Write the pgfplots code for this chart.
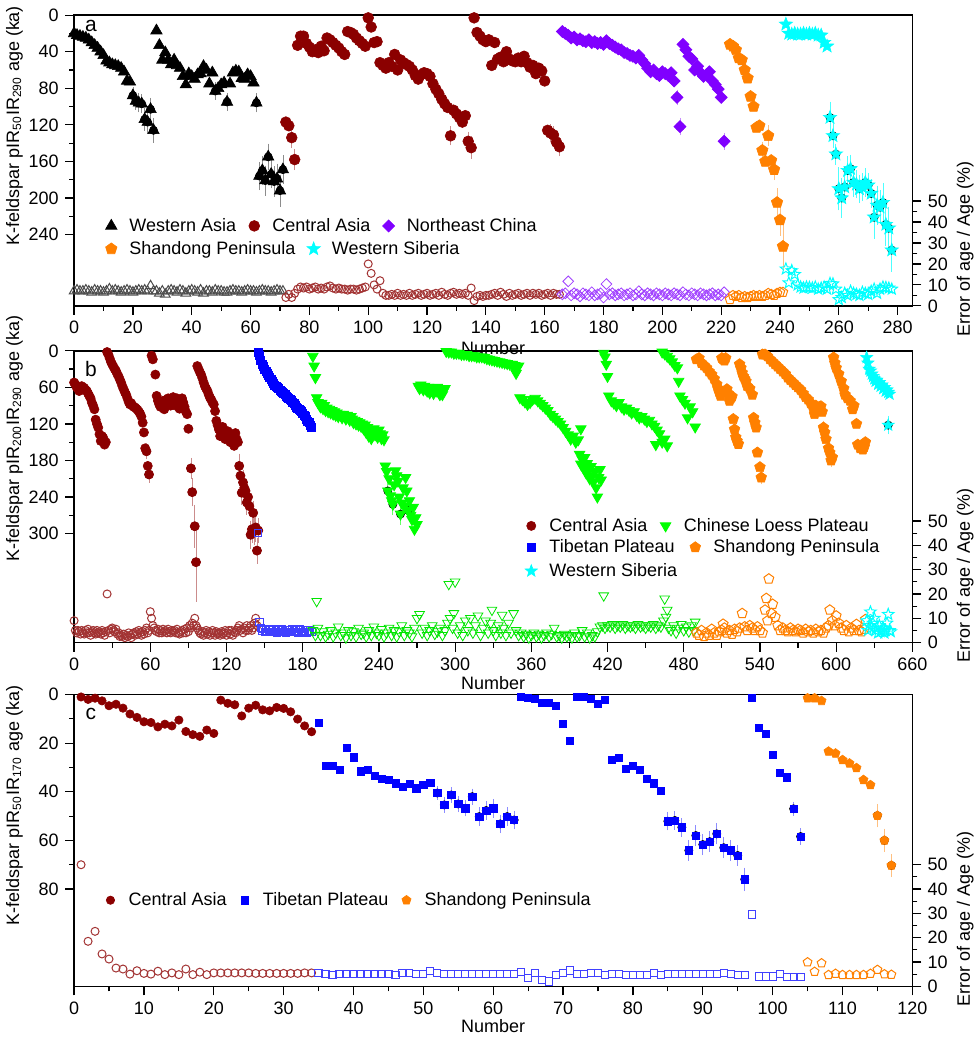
\documentclass[border=0pt]{standalone}
\usepackage{fontspec}
\setmainfont{Liberation Sans}
\usepackage{pgfplots}
\pgfplotsset{compat=1.18}

\definecolor{cred}{RGB}{139,0,0}
\definecolor{cpur}{RGB}{128,0,255}
\definecolor{cora}{RGB}{255,128,0}
\definecolor{ccya}{RGB}{0,255,255}
\definecolor{cblu}{RGB}{0,0,255}
\definecolor{cgrn}{RGB}{0,255,0}

% filled and open five-pointed stars
\pgfdeclareplotmark{fstar}{%
  \pgfpathmoveto{\pgfpointpolar{90}{\pgfplotmarksize}}%
  \pgfpathlineto{\pgfpointpolar{126}{0.42\pgfplotmarksize}}%
  \pgfpathlineto{\pgfpointpolar{162}{\pgfplotmarksize}}%
  \pgfpathlineto{\pgfpointpolar{198}{0.42\pgfplotmarksize}}%
  \pgfpathlineto{\pgfpointpolar{234}{\pgfplotmarksize}}%
  \pgfpathlineto{\pgfpointpolar{270}{0.42\pgfplotmarksize}}%
  \pgfpathlineto{\pgfpointpolar{306}{\pgfplotmarksize}}%
  \pgfpathlineto{\pgfpointpolar{342}{0.42\pgfplotmarksize}}%
  \pgfpathlineto{\pgfpointpolar{18}{\pgfplotmarksize}}%
  \pgfpathlineto{\pgfpointpolar{54}{0.42\pgfplotmarksize}}%
  \pgfpathclose\pgfusepathqfillstroke}
\pgfdeclareplotmark{ostar}{%
  \pgfpathmoveto{\pgfpointpolar{90}{\pgfplotmarksize}}%
  \pgfpathlineto{\pgfpointpolar{126}{0.42\pgfplotmarksize}}%
  \pgfpathlineto{\pgfpointpolar{162}{\pgfplotmarksize}}%
  \pgfpathlineto{\pgfpointpolar{198}{0.42\pgfplotmarksize}}%
  \pgfpathlineto{\pgfpointpolar{234}{\pgfplotmarksize}}%
  \pgfpathlineto{\pgfpointpolar{270}{0.42\pgfplotmarksize}}%
  \pgfpathlineto{\pgfpointpolar{306}{\pgfplotmarksize}}%
  \pgfpathlineto{\pgfpointpolar{342}{0.42\pgfplotmarksize}}%
  \pgfpathlineto{\pgfpointpolar{18}{\pgfplotmarksize}}%
  \pgfpathlineto{\pgfpointpolar{54}{0.42\pgfplotmarksize}}%
  \pgfpathclose\pgfusepathqstroke}

\pgfplotsset{
  base/.style={
    scale only axis, width=419.5pt, clip=false,
    tick align=outside, major tick length=4.5pt, minor tick length=2.5pt,
    every tick/.style={black, line width=0.6pt},
    axis line style={line width=0.7pt},
    /pgf/number format/assume math mode=true,
    legend style={draw=none, fill=none, inner sep=0pt, row sep=0pt,
      /tikz/every even column/.append style={column sep=0pt}},
    legend cell align=left,
    legend image code/.code={\path[draw=none,fill=none] (0pt,0pt) -- (14.2pt,0pt);
      \draw[##1, only marks] plot coordinates {(7.1pt,0pt)};},
  },
  ebar/.style={only marks, mark=none, forget plot,
    error bars/.cd, y dir=both, y explicit,
    error bar style={#1, line width=0.4pt},
    error mark options={#1, mark size=1.6pt, line width=0.4pt}},
  fillm/.style 2 args={only marks, mark=#1, color=#2, mark options={solid, fill=#2, line width=0.3pt}},
  openm/.style 2 args={only marks, mark=#1, color=#2, forget plot, mark options={solid, line width=0.5pt}},
}

\begin{document}
\fontsize{9}{11}\selectfont
\begin{tikzpicture}

%================ panel a ================
\begin{axis}[base, at={(0pt,340.5pt)}, anchor=south west, height=145.5pt,
  xmin=0, xmax=285, ymin=0, ymax=318, y dir=reverse,
  xtick={0,20,...,280}, minor x tick num=1,
  ytick={0,40,...,240}, minor ytick={20,60,...,220},
  xtick pos=left, ytick pos=left,
  xlabel={Number}, xlabel style={yshift=2.5pt},
  ylabel={K-feldspar pIR\textsubscript{50}IR\textsubscript{290} age (ka)},
  ylabel style={at={(axis description cs:-0.0536,0.62)}, anchor=south},
  legend columns=3,
  legend style={at={(axis description cs:0.027,0.275)}, anchor=west}]
\addplot[ebar=black!45] coordinates {(20,88)+-(0,6) (21,94)+-(0,6) (22,96)+-(0,7) (23,97)+-(0,7) (24,114)+-(0,9) (25,117)+-(0,9) (26,103)+-(0,9) (27,126)+-(0,10) (48,83)+-(0,6) (52,95)+-(0,6) (62,96)+-(0,7) (63,176)+-(0,12) (64,170)+-(0,12) (65,181)+-(0,13) (66,155)+-(0,11) (67,174)+-(0,12) (68,182)+-(0,13) (69,179)+-(0,13) (70,192)+-(0,14) (71,169)+-(0,12)};
\addplot[ebar=cred!45] coordinates {(74,134)+-(0,8) (75,158)+-(0,8) (128,132)+-(0,7) (134,138)+-(0,7) (135,145)+-(0,9) (162,129)+-(0,6) (163,131)+-(0,6) (164,139)+-(0,6) (165,144)+-(0,7)};
\addplot[ebar=cpur!45] coordinates {(205,90)+-(0,5) (206,122)+-(0,6) (221,138)+-(0,6)};
\addplot[ebar=cora!50] coordinates {(234,148)+-(0,6) (236,132)+-(0,8) (238,169)+-(0,8) (239,205)+-(0,12) (240,224)+-(0,14) (241,253)+-(0,22)};
\addplot[ebar=ccya!70] coordinates {(257,112)+-(0,14) (258,132)+-(0,10) (259,152)+-(0,8) (260,190)+-(0,20) (261,200)+-(0,18) (262,188)+-(0,10) (263,170)+-(0,12) (264,168)+-(0,12) (265,183)+-(0,12) (266,185)+-(0,12) (267,190)+-(0,12) (268,188)+-(0,12) (269,183)+-(0,12) (270,186)+-(0,10) (271,195)+-(0,12) (272,221)+-(0,20) (273,208)+-(0,18) (274,210)+-(0,15) (275,205)+-(0,18) (276,229)+-(0,20) (277,233)+-(0,20) (278,257)+-(0,20)};
\addplot[fillm={triangle*}{black}, mark size=3.3pt] coordinates {(0,20)(1,22)(2,23)(3,24)(4,25)(5,27)(6,30)(7,33)(8,36)(9,40)(10,44)(11,50)(12,52)(13,54)(14,55)(15,56)(16,58)(17,62)(18,72)(19,73)(20,88)(21,94)(22,96)(23,97)(24,114)(25,117)(26,103)(27,126)(28,17)(29,33)(30,49)(31,41)(32,49)(33,54)(34,49)(35,55)(36,58)(37,67)(38,76)(39,64)(40,67)(41,70)(42,65)(43,64)(44,56)(45,60)(46,75)(47,63)(48,83)(49,80)(50,76)(51,74)(52,95)(53,75)(54,63)(55,61)(56,62)(57,69)(58,70)(59,65)(60,67)(61,74)(62,96)(63,176)(64,170)(65,181)(66,155)(67,174)(68,182)(69,179)(70,192)(71,169)};
\addlegendentry{Western Asia}
\addplot[fillm={*}{cred}, mark size=2.7pt] coordinates {(72,117)(73,121)(74,134)(75,158)(76,33)(77,23)(78,23)(79,31)(80,35)(81,40)(82,38)(83,41)(84,34)(85,39)(86,25)(87,27)(88,30)(89,33)(90,36)(91,40)(92,43)(93,18)(94,19)(95,21)(96,25)(97,28)(98,31)(99,34)(100,3)(101,13)(102,30)(103,29)(104,52)(105,55)(106,58)(107,52)(108,56)(109,43)(110,60)(111,49)(112,52)(113,54)(114,56)(115,60)(116,66)(117,70)(118,65)(119,63)(120,64)(121,67)(122,75)(123,81)(124,86)(125,92)(126,97)(127,101)(128,132)(129,104)(130,108)(131,112)(132,117)(133,110)(134,138)(135,145)(136,3)(137,19)(138,23)(139,27)(140,29)(141,27)(142,55)(143,30)(144,48)(145,46)(146,51)(147,40)(148,48)(149,50)(150,51)(151,47)(152,51)(153,45)(154,52)(155,57)(156,55)(157,64)(158,58)(159,61)(160,72)(161,126)(162,129)(163,131)(164,139)(165,144)};
\addlegendentry{Central Asia}
\addplot[fillm={square*}{cpur}, mark size=2.1pt, mark options={rotate=45}] coordinates {(166,18)(167,20)(168,22)(169,25)(170,24)(171,27)(172,26)(173,28)(174,29)(175,27)(176,30)(177,29)(178,31)(179,30)(180,32)(181,28)(182,31)(183,33)(184,35)(185,37)(186,38)(187,41)(188,42)(189,44)(190,45)(191,47)(192,44)(193,49)(194,53)(195,58)(196,62)(197,60)(198,64)(199,66)(200,62)(201,64)(202,66)(203,63)(204,72)(205,90)(206,122)(207,32)(208,38)(209,45)(210,48)(211,60)(212,56)(213,63)(214,67)(215,65)(216,62)(217,72)(218,76)(219,81)(220,90)(221,138)};
\addlegendentry{Northeast China}
\addplot[fillm={pentagon*}{cora}, mark size=3pt] coordinates {(223,32)(224,34)(225,38)(226,47)(227,49)(228,60)(229,69)(230,89)(231,100)(232,123)(233,121)(234,148)(235,160)(236,132)(237,159)(238,169)(239,205)(240,224)(241,253)};
\addplot[fillm={fstar}{ccya}, mark size=3.5pt] coordinates {(242,10)(243,20)(244,21)(245,20)(246,21)(247,21)(248,20)(249,21)(250,20)(251,21)(252,20)(253,22)(254,22)(255,30)(256,34)(257,112)(258,132)(259,152)(260,190)(261,200)(262,188)(263,170)(264,168)(265,183)(266,185)(267,190)(268,188)(269,183)(270,186)(271,195)(272,221)(273,208)(274,210)(275,205)(276,229)(277,233)(278,257)};
\node[font=\fontsize{10.5}{12}\selectfont] at (axis description cs:0.020,0.962) {a};
\end{axis}

\begin{axis}[base, at={(0pt,340.5pt)}, anchor=south west, height=145.5pt,
  xmin=0, xmax=285, ymin=0, ymax=138.6,
  axis x line=none, axis y line*=right,
  ytick={0,10,...,50}, minor ytick={5,15,...,45},
  ylabel={Error of age / Age (\%)},
  ylabel style={at={(axis description cs:1.0453,0.196)}, anchor=north},
  legend columns=2,
  legend style={at={(axis description cs:0.027,0.196)}, anchor=west}]
\addlegendimage{fillm={pentagon*}{cora}, mark size=3pt}
\addlegendentry{Shandong Peninsula}
\addlegendimage{fillm={fstar}{ccya}, mark size=3.5pt}
\addlegendentry{Western Siberia}
\addplot[openm={triangle}{black!70}, mark size=2.8pt] coordinates {(0,7)(1,7.5)(2,7)(3,7)(4,7.5)(5,7)(6,6.5)(7,7.5)(8,7)(9,7)(10,6.5)(11,7)(12,8)(13,7)(14,7.5)(15,7)(16,6.5)(17,7)(18,7.5)(19,7)(20,6.5)(21,7)(22,7.5)(23,7)(24,7.5)(25,7)(26,9.5)(27,7)(28,7)(29,6)(30,7)(31,5.5)(32,7)(33,7.5)(34,7)(35,6.5)(36,7.5)(37,7)(38,6)(39,7)(40,7.5)(41,7)(42,6.5)(43,7.5)(44,6)(45,7)(46,7)(47,6.5)(48,7.5)(49,7)(50,7)(51,6.5)(52,6.5)(53,7)(54,7.5)(55,7)(56,7)(57,6.5)(58,7)(59,7.5)(60,7)(61,7)(62,6.5)(63,7)(64,7.5)(65,7)(66,7)(67,6.5)(68,7)(69,7.5)(70,7)(71,7)};
\addplot[openm={o}{cred!80}, mark size=2pt] coordinates {(72,4)(73,5.5)(74,4)(75,6)(76,8)(77,9)(78,8.5)(79,9)(80,8)(81,8.5)(82,9)(83,8)(84,8.5)(85,8)(86,9)(87,9.5)(88,8.5)(89,8)(90,8.5)(91,8)(92,8)(93,7.5)(94,8)(95,8)(96,7.5)(97,8)(98,8.5)(99,9)(100,20)(101,15.5)(102,10)(103,8)(104,12)(105,6)(106,5)(107,5)(108,5.5)(109,5)(110,6)(111,5)(112,5.5)(113,5)(114,6)(115,5)(116,5.5)(117,6)(118,5)(119,5.5)(120,6)(121,5)(122,5.5)(123,6)(124,5)(125,6.5)(126,5.5)(127,5)(128,6)(129,6.5)(130,5.5)(131,6)(132,5.5)(133,6)(134,5)(135,8.5)(136,2.5)(137,4.5)(138,5)(139,4.5)(140,5)(141,5)(142,5.5)(143,6)(144,5)(145,6.5)(146,5.5)(147,4.5)(148,6)(149,5)(150,5.5)(151,6)(152,5)(153,5.5)(154,6)(155,5)(156,6)(157,5.5)(158,6)(159,5)(160,5.5)(161,6)(162,5)(163,6)(164,5.5)(165,5.5)};
\addplot[openm={square}{cpur!75}, mark size=1.9pt, mark options={rotate=45}] coordinates {(166,5.5)(167,6)(168,11.7)(169,5)(170,6)(171,5.5)(172,4.5)(173,6)(174,5.5)(175,5)(176,6.5)(177,5)(178,5.5)(179,6)(180,4)(181,10.4)(182,5.5)(183,6)(184,5)(185,5.5)(186,6)(187,5)(188,5.5)(189,6)(190,5)(191,5.5)(192,7)(193,5.5)(194,5)(195,6)(196,5.5)(197,5)(198,6)(199,5.5)(200,5)(201,6)(202,5.5)(203,5)(204,6)(205,5.5)(206,5)(207,6.5)(208,5.5)(209,5)(210,6)(211,5.5)(212,5)(213,6)(214,5.5)(215,5)(216,5.5)(217,6)(218,5)(219,5.5)(220,5)(221,6.5)};
\addplot[openm={pentagon}{cora}, mark size=2.5pt] coordinates {(223,3)(224,5)(225,4.5)(226,5)(227,4)(228,4.5)(229,4)(230,4.5)(231,5)(232,4.5)(233,5)(234,4.5)(235,5)(236,6)(237,5.5)(238,5)(239,6)(240,6.5)(241,6.5)};
\addplot[openm={ostar}{ccya}, mark size=3pt] coordinates {(242,17.6)(243,11)(244,16.8)(245,15)(246,10)(247,9)(248,8.5)(249,9)(250,8.8)(251,8.5)(252,9)(253,8)(254,8.5)(255,9)(256,8)(257,10.7)(258,10.5)(259,8)(260,3)(261,4)(262,6)(263,5)(264,7)(265,6)(266,5.5)(267,5)(268,6.5)(269,6)(270,5.5)(271,7)(272,8)(273,6)(274,8)(275,9)(276,8.8)(277,8.5)(278,8)};
\end{axis}

%================ panel b ================
\begin{axis}[base, at={(0pt,172pt)}, anchor=south west, height=146pt,
  xmin=0, xmax=660, ymin=0, ymax=479, y dir=reverse,
  xtick={0,60,...,660}, minor x tick num=1,
  ytick={0,60,...,300}, minor ytick={30,90,...,270},
  xtick pos=left, ytick pos=left,
  xlabel={Number}, xlabel style={yshift=3.5pt},
  ylabel={K-feldspar pIR\textsubscript{200}IR\textsubscript{290} age (ka)},
  ylabel style={at={(axis description cs:-0.0536,0.70)}, anchor=south},
  legend columns=2,
  legend style={at={(axis description cs:0.528,0.400)}, anchor=west}]
\addplot[ebar=cred!45] coordinates {(57,165)+-(0,8) (59,203)+-(0,8) (92,193)+-(0,12) (93,232)+-(0,18) (95,288)+-(0,30) (96,347)+-(0,60) (130,189)+-(0,15) (131,205)+-(0,15) (132,233)+-(0,15) (133,216)+-(0,15) (135,230)+-(0,15) (136,249)+-(0,15) (139,302)+-(0,18) (140,293)+-(0,18) (141,266)+-(0,15) (142,296)+-(0,18) (143,290)+-(0,18) (144,328)+-(0,16) (145,295)+-(0,15)};
\addplot[ebar=cgrn!60] coordinates {(247,230)+-(0,12) (251,252)+-(0,12) (257,268)+-(0,12) (263,262)+-(0,10)};
\addplot[ebar=cora!50] coordinates {(541,208)+-(0,6) (590,126)+-(0,6) (596,180)+-(0,6)};
\addplot[ebar=ccya!70] coordinates {(641,122)+-(0,10)};
\addplot[fillm={*}{cred}, mark size=2.3pt] coordinates {(0,52)(1,55)(2,60)(3,62)(4,66)(5,60)(6,58)(7,60)(8,61)(9,64)(10,66)(11,70)(12,74)(13,78)(14,85)(15,90)(16,96)(17,113)(18,120)(19,126)(20,137)(21,148)(22,140)(23,143)(24,154)(25,150)
(26,2)(27,6)(28,12)(29,18)(30,22)(31,26)(32,30)(33,33)(34,38)(35,42)(36,47)(37,52)(38,58)(39,63)(40,68)(41,72)(42,78)(43,84)(44,88)(45,86)(46,90)(47,92)(48,93)(49,95)(50,97)(51,100)(52,103)(53,108)(54,118)(55,134)(56,160)(57,165)(58,189)(59,203)
(61,8)(62,14)(64,39)(65,74)(66,82)(67,88)(68,92)(69,85)(70,82)(71,96)(72,88)(73,80)(74,78)(75,85)(76,90)(77,80)(78,76)(79,82)(80,90)(81,78)(82,86)(83,95)(84,80)(85,78)(86,85)(87,92)(88,100)(89,104)(90,128)
(92,193)(93,232)(95,288)(96,347)
(97,25)(98,30)(99,35)(100,39)(101,45)(102,52)(103,58)(104,62)(105,66)(106,72)(107,77)(108,80)(109,85)(110,88)(111,99)(112,115)(113,122)(114,129)(115,140)(116,130)(117,125)(118,135)(119,145)(120,138)(121,132)(122,142)(123,150)(124,140)(125,148)(126,156)(127,135)(128,145)(129,150)(130,189)(131,205)(132,233)(133,216)(134,225)(135,230)(136,249)(137,240)(138,255)(139,302)(140,293)(141,266)(142,296)(143,290)(144,328)(145,295)};
\addlegendentry{Central Asia}
\addplot[fillm={triangle*}{cgrn}, mark size=3pt, mark options={rotate=180}] coordinates {(188,9)(189,25)(190,44)(191,77)(192,85)(193,88)(194,92)(195,86)(196,95)(197,90)(198,98)(199,94)(200,100)(201,96)(202,102)(203,98)(204,104)(205,100)(206,106)(207,102)(208,108)(209,104)(210,106)(211,110)(212,104)(213,108)(214,112)(215,106)(216,110)(217,114)(218,108)(219,112)(220,118)(221,114)(222,120)(223,116)(224,122)(225,118)(226,124)(227,120)(228,128)(229,122)(230,134)(231,126)(232,140)(233,130)(234,144)(235,136)(236,128)(237,138)(238,132)(239,142)(240,130)(241,136)(242,144)(243,138)(244,146)
(245,189)(246,198)(247,230)(248,210)(249,238)(250,246)(251,252)(252,220)(253,197)(254,205)(255,214)(256,240)(257,268)(258,250)(259,225)(260,255)(261,208)(262,230)(263,262)(264,246)(265,270)(266,277)(267,257)(268,293)(269,274)(270,285)
(271,58)(272,62)(273,56)(274,60)(275,64)(276,58)(277,63)(278,66)(279,60)(280,69)(281,62)(282,66)(283,70)(284,64)(285,66)(286,60)(287,68)(288,72)(289,64)(290,72)(291,66)(292,62)
(293,1)(295,2)(297,2)(299,4)(301,4)(303,4)(305,6)(307,6)(309,6)(311,8)(313,8)(315,8)(317,10)(319,10)(321,10)(323,11)(325,13)(327,14)(329,15)(331,16)(333,17)(335,18)(337,19)(339,20)(341,21)(343,22)(345,22)(346,26)(347,24)(348,37)(349,28)(350,25)
(351,77)(353,80)(355,84)(357,88)(359,85)(361,80)(363,78)(365,82)(367,86)(369,90)(371,94)(373,98)(375,104)(377,108)(379,112)(381,116)(383,120)(385,126)(387,132)(389,138)(391,145)(393,140)(395,150)(397,146)(399,128)
(398,170)(399,186)(400,178)(401,192)(402,175)(403,200)(404,185)(405,195)(406,210)(407,190)(408,205)(409,215)(410,198)(411,225)(412,240)(413,208)(414,195)(415,212)
(417,4)(418,10)(419,22)(420,42)(421,74)(423,82)(425,86)(427,90)(429,85)(431,92)(433,96)(435,94)(437,98)(439,102)(441,100)(443,106)(445,110)(447,108)(449,112)(451,116)(453,114)(455,120)(457,124)(458,154)(459,130)(461,136)(463,150)(465,145)(467,156)
(463,2)(465,5)(467,9)(469,13)(471,18)(473,24)(475,28)(476,50)(477,74)(479,80)(481,86)(483,110)(485,92)(487,100)(489,125)};
\addlegendentry{Chinese Loess Plateau}
\addplot[fillm={square*}{cblu}, mark size=2pt] coordinates {(145,2)(146,8)(147,16)(148,22)(149,26)(150,30)(151,34)(152,37)(153,40)(154,44)(155,47)(156,50)(157,53)(158,56)(159,58)(160,60)(161,62)(162,64)(163,66)(164,68)(165,70)(166,72)(167,74)(168,77)(169,78)(170,80)(171,82)(172,84)(173,86)(174,90)(175,92)(176,94)(177,96)(178,98)(179,100)(180,103)(181,106)(182,108)(183,112)(184,115)(185,118)(186,122)(187,126)};
\addplot[fillm={pentagon*}{cora}, mark size=2.8pt] coordinates {(490,14)(492,12)(494,20)(496,24)(498,28)(500,34)(502,39)(504,46)(506,55)(507,62)(508,68)(509,74)(510,12)(511,14)(512,16)(513,12)(514,63)(515,70)(516,82)(517,78)(518,75)(519,112)(520,129)(521,142)(522,148)(523,153)(524,22)(525,28)(526,36)(527,42)(528,46)(529,50)(530,58)(532,62)(534,72)(535,110)(536,118)(537,126)(538,167)(540,191)(541,208)(542,6)(544,6)(546,9)(548,14)(550,18)(552,22)(554,26)(556,30)(558,34)(560,38)(562,44)(564,48)(566,52)(568,56)(570,60)(572,64)(574,70)(576,76)(578,80)(580,86)(582,94)(583,104)(584,90)(586,99)(587,92)(588,91)(589,100)(590,126)(591,134)(592,145)(594,160)(595,167)(596,180)(597,175)(598,11)(599,20)(600,28)(602,38)(604,50)(606,62)(607,72)(609,78)(611,82)(613,96)(614,90)(616,120)(617,154)(619,160)(621,162)(622,158)(623,150)};
\addplot[fillm={fstar}{ccya}, mark size=3.2pt] coordinates {(624,11)(625,20)(626,30)(627,33)(628,38)(629,42)(630,46)(631,50)(632,48)(633,55)(634,52)(635,58)(636,56)(637,62)(638,60)(639,66)(640,64)(641,68)(642,71)(641,122)};
\node[font=\fontsize{10.5}{12}\selectfont] at (axis description cs:0.020,0.938) {b};
\end{axis}

\begin{axis}[base, at={(0pt,172pt)}, anchor=south west, height=146pt,
  xmin=0, xmax=660, ymin=0, ymax=120,
  axis x line=none, axis y line*=right,
  ytick={0,10,...,50}, minor ytick={5,15,...,45},
  ylabel={Error of age / Age (\%)},
  ylabel style={at={(axis description cs:1.0453,0.23)}, anchor=north},
  legend columns=2,
  legend style={at={(axis description cs:0.528,0.286)}, anchor=west}]
\addlegendimage{fillm={square*}{cblu}, mark size=2pt}
\addlegendentry{Tibetan Plateau}
\addlegendimage{fillm={pentagon*}{cora}, mark size=2.8pt}
\addlegendentry{Shandong Peninsula}
\addlegendimage{fillm={fstar}{ccya}, mark size=3.2pt}
\addlegendentry{Western Siberia}
\addplot[openm={o}{cred!80}, mark size=2pt] coordinates {(0,9)(1,5)(2,4)(3,5)(4,4.5)(5,3.5)(6,5)(7,4)(8,3.5)(9,5)(10,4)(11,5.5)(12,4)(13,3)(14,4.5)(15,5)(16,4)(17,3.5)(18,5)(19,4)(20,4.5)(21,3.5)(22,5)(23,4)(24,3)(25,4.5)(26,20)(27,5)(28,4)(29,5.5)(30,6)(31,5)(32,4.5)(33,5.5)(34,3.5)(35,4)(36,2.5)(37,3)(38,2.5)(39,3.5)(40,2)(41,3)(42,2.5)(43,4)(44,3)(45,2)(46,3.5)(47,4)(48,3)(49,4.5)(50,3.5)(51,5)(52,4)(53,3)(54,4.5)(55,3.5)(56,5)(57,6)(58,4)(59,5)(60,12.7)(61,10)(62,7)(63,6)(64,5)(65,4.5)(66,5.5)(67,4)(68,5)(69,4)(70,5.5)(71,4.5)(72,5)(73,4)(74,5.5)(75,4.5)(76,4)(77,5)(78,4.5)(79,5)(80,4)(81,5.5)(82,4)(83,3.5)(84,4.5)(85,5)(86,4)(87,5.5)(88,4)(89,6)(90,4.5)(91,7)(92,6)(93,8)(94,7)(95,10)(96,7)(97,6)(98,5)(99,4)(100,3.5)(101,4.5)(102,3)(103,4)(104,5)(105,3.5)(106,4.5)(107,3)(108,4)(109,5)(110,4)(111,3)(112,4.5)(113,3.5)(114,4)(115,3)(116,4.5)(117,3.5)(118,4)(119,5)(120,3)(121,4)(122,5)(123,3.5)(124,5)(125,3)(126,4.5)(127,4)(128,5)(129,6)(130,7)(131,5)(132,5.5)(133,4)(134,6)(135,5)(136,7)(137,5)(138,6)(139,7)(140,5)(141,6)(142,8)(143,10)(144,7)};
\addplot[openm={square}{cblu!75}, mark size=1.8pt] coordinates {(145,45)(146,8.5)(147,6)(148,5)(149,5.5)(150,4.5)(151,5)(152,4.5)(153,5.5)(154,5)(155,4.5)(156,5)(157,5.5)(158,4.5)(159,5)(160,4)(161,5)(162,4.5)(163,5)(164,5.5)(165,4.5)(166,5)(167,4)(168,5)(169,4.5)(170,5)(171,4.5)(172,5.5)(173,5)(174,4.5)(175,5)(176,4)(177,5)(178,5.5)(179,4.5)(180,5)(181,4.5)(182,5)(183,4)(184,5)(185,4.5)(186,5)(187,4.5)};
\addplot[openm={triangle}{cgrn!90!black}, mark size=2.8pt, mark options={rotate=180}] coordinates {(188,5)(190,3)(191,17)(192,6)(194,3)(196,4.5)(198,2.5)(200,3.5)(202,5)(204,2.5)(206,4)(208,6.5)(210,3)(212,4)(214,2)(216,5)(218,3)(220,4.5)(222,2.5)(224,6)(226,3.5)(228,4)(230,2.5)(232,5)(234,3)(236,6.5)(238,4)(240,3)(242,5.5)(244,2.5)(246,4)(248,6)(250,3)(252,5)(254,2.5)(256,4.5)(258,7)(260,3)(262,5)(264,4)(266,2.5)(268,6)(270,10)(272,11.6)(274,4)(276,6)(278,3)(280,5)(282,7)(284,3.5)(286,4.5)(288,6)(290,3)(292,5)(294,8)(295,24)(296,10)(298,6)(299,12)(300,25)(302,4)(304,7)(306,3)(308,9)(310,5)(312,10)(314,4)(316,7)(318,11)(320,3)(322,6)(324,9)(326,4)(328,8)(329,13.4)(330,5)(332,3)(334,7)(336,4)(337,11.3)(338,6)(340,3)(342,8)(344,4)(346,12)(348,5)(350,3)(352,4)(354,2.5)(356,3.5)(358,2)(360,3)(362,4)(364,2.5)(366,3.5)(368,2)(370,3)(372,4)(374,2.5)(376,3.5)(378,6)(380,2.5)(382,3)(384,2)(386,3.5)(388,2.5)(390,3)(392,2)(394,4)(396,2.5)(398,3)(400,5)(402,2.5)(404,4)(406,2)(408,3)(410,2.5)(412,4.5)(414,6.5)(416,7)(417,19.3)(418,6)(420,7)(422,6.5)(424,7.5)(426,6)(428,7)(430,6.5)(432,7.5)(434,6)(436,7)(438,6.5)(440,7)(442,6)(444,7.5)(446,6.5)(448,7)(450,6)(452,7)(454,6.5)(456,7.5)(458,6)(460,7)(462,6.5)(464,9)(465,18)(466,10.5)(467,13.4)(468,6)(470,5)(472,7)(474,4)(476,6)(478,7.5)(480,5)(482,6.5)(484,4.5)(486,7)(488,5)(489,8.5)};
\addplot[openm={pentagon}{cora}, mark size=2.6pt] coordinates {(490,4)(492,3)(494,5)(496,2.5)(498,4)(500,3)(502,5.5)(504,4)(506,3)(508,4.5)(510,5)(511,7.6)(512,6)(514,4)(516,5)(518,3.5)(520,5.5)(522,4.5)(524,6)(526,12)(528,6.5)(530,5)(532,7)(534,6)(536,5)(538,6.5)(540,5)(542,4)(544,13.4)(545,18.2)(546,9)(547,26.2)(549,12)(550,15.8)(552,10.5)(554,7)(556,5)(558,6)(560,5)(562,4.5)(564,6)(566,5)(568,4.5)(570,5.5)(572,5)(574,4)(576,5.5)(578,4.5)(580,5)(582,4)(584,5.5)(586,4.5)(588,5)(590,4)(592,6)(594,7)(595,13.4)(597,9)(599,7)(600,11)(602,8)(604,6)(606,5)(608,7)(610,4.5)(612,6)(614,5)(616,7.5)(618,5)(620,4.5)(622,5.5)(623,9.5)};
\addplot[openm={ostar}{ccya}, mark size=3pt] coordinates {(624,9)(625,5)(626,7)(627,12.6)(628,6)(629,8)(630,10)(631,5)(632,6)(633,4)(634,7)(635,4.5)(636,5)(637,6)(638,4)(639,5)(640,8)(641,11.6)(642,5)(643,4.5)};
\end{axis}

%================ panel c ================
\begin{axis}[base, at={(0pt,0pt)}, anchor=south west, height=146pt,
  xmin=0, xmax=120, ymin=0, ymax=120, y dir=reverse,
  xtick={0,10,...,120}, minor x tick num=1,
  ytick={0,20,...,80}, minor ytick={10,30,...,70},
  xtick pos=left, ytick pos=left,
  xlabel={Number}, xlabel style={yshift=3.5pt},
  ylabel={K-feldspar pIR\textsubscript{50}IR\textsubscript{170} age (ka)},
  ylabel style={at={(axis description cs:-0.0536,0.62)}, anchor=south},
  legend columns=3,
  legend style={at={(axis description cs:0.026,0.295)}, anchor=west}]
\addplot[ebar=cblu!45] coordinates {(52,40.5)+-(0,1.5) (53,45.4)+-(0,2) (54,41.3)+-(0,1.8) (55,45)+-(0,2) (56,46.8)+-(0,2) (57,42)+-(0,2) (58,50.2)+-(0,2.5) (59,47.7)+-(0,2.5) (60,46.8)+-(0,2.5) (61,53.2)+-(0,2.5) (62,50.2)+-(0,2.5) (63,51.6)+-(0,2.5) (85,52.1)+-(0,2.5) (86,51.8)+-(0,2.5) (87,54.6)+-(0,2.5) (88,64.1)+-(0,3) (89,58)+-(0,3) (90,61.7)+-(0,3) (91,60.5)+-(0,3) (92,57.3)+-(0,3) (93,63)+-(0,3) (94,64.1)+-(0,3) (95,66.2)+-(0,3) (96,76)+-(0,3.5) (103,47)+-(0,1.5) (104,58.4)+-(0,2)};
\addplot[ebar=cora!50] coordinates {(115,49.8)+-(0,3.5) (116,60)+-(0,3.5) (117,70.3)+-(0,3.5)};
\addplot[fillm={*}{cred}, mark size=2.1pt] coordinates {(1,1)(2,2)(3,1.5)(4,2.6)(5,4.6)(6,4)(7,5.6)(8,8)(9,9.4)(10,11.2)(11,11.5)(12,13.3)(13,12.2)(14,12.9)(15,10.5)(16,15.2)(17,16.5)(18,17.2)(19,14.6)(20,16)(21,2.3)(22,3.6)(23,4.2)(24,8.8)(25,5.6)(26,4.4)(27,6.3)(28,6.7)(29,5.3)(30,5.7)(31,7.1)(32,10.1)(33,12.9)(34,15.3)};
\addlegendentry{Central Asia}
\addplot[fillm={square*}{cblu}, mark size=1.8pt] coordinates {(35,11.5)(36,29.3)(37,29.3)(38,31)(39,22)(40,25.8)(41,31.6)(42,30.9)(43,33.5)(44,34.7)(45,35.1)(46,36.5)(47,37.9)(48,36.8)(49,38.6)(50,37.2)(51,36.2)(52,40.5)(53,45.4)(54,41.3)(55,45)(56,46.8)(57,42)(58,50.2)(59,47.7)(60,46.8)(61,53.2)(62,50.2)(63,51.6)(64,1)(65,1.2)(66,1.9)(67,3.3)(68,3.3)(69,4.6)(70,11.9)(71,19)(72,1)(73,1)(74,1.9)(75,3.7)(76,2.3)(77,26.9)(78,26.1)(79,30.6)(80,29.3)(81,31)(82,34.5)(83,36.5)(84,39.5)(85,52.1)(86,51.8)(87,54.6)(88,64.1)(89,58)(90,61.7)(91,60.5)(92,57.3)(93,63)(94,64.1)(95,66.2)(96,76)(97,1.2)(98,13.8)(99,16)(100,24.8)(101,32.3)(102,34)(103,47)(104,58.4)};
\addlegendentry{Tibetan Plateau}
\addplot[fillm={pentagon*}{cora}, mark size=2.4pt] coordinates {(105,1.5)(106,1.5)(107,2.6)(108,23.4)(109,24.2)(110,26.9)(111,28.3)(112,30.2)(113,35.1)(114,37.2)(115,49.8)(116,60)(117,70.3)};
\addlegendentry{Shandong Peninsula}
\node[font=\fontsize{10.5}{12}\selectfont] at (axis description cs:0.020,0.935) {c};
\end{axis}

\begin{axis}[base, at={(0pt,0pt)}, anchor=south west, height=146pt,
  xmin=0, xmax=120, ymin=0, ymax=120,
  axis x line=none, axis y line*=right,
  ytick={0,10,...,50}, minor ytick={5,15,...,45},
  ylabel={Error of age / Age (\%)},
  ylabel style={at={(axis description cs:1.0453,0.23)}, anchor=north}]
\addplot[openm={o}{cred!80}, mark size=2pt] coordinates {(1,50)(2,18.5)(3,22.6)(4,13.3)(5,11.2)(6,7.5)(7,7.1)(8,5)(9,6.4)(10,5.3)(11,5)(12,6.2)(13,4.8)(14,5.5)(15,4.8)(16,7.1)(17,4.8)(18,5.8)(19,4.8)(20,5.5)(21,5.5)(22,5.5)(23,5.5)(24,5.5)(25,5.5)(26,5.3)(27,5.3)(28,5.3)(29,5.3)(30,5.3)(31,5.3)(32,5.3)(33,5.5)(34,5.5)};
\addplot[openm={square}{cblu!75}, mark size=1.8pt] coordinates {(35,5.5)(36,5)(37,4.5)(38,5)(39,5)(40,5)(41,5)(42,5)(43,5)(44,5)(45,5)(46,4.8)(47,5.5)(48,5.5)(49,5)(50,5)(51,6.2)(52,5.5)(53,5)(54,5)(55,5)(56,5)(57,5)(58,5)(59,5)(60,5)(61,5)(62,5)(63,5)(64,6)(65,3.5)(66,5.5)(67,2.5)(68,2)(69,4.5)(70,5.5)(71,6.5)(72,5)(73,5)(74,5.5)(75,5.5)(76,4.5)(77,5)(78,5)(79,4.5)(80,4.5)(81,4.5)(82,4.5)(83,5.5)(84,4.5)(85,5)(86,5)(87,5)(88,5)(89,5)(90,5)(91,5)(92,5)(93,5.5)(94,5)(95,4.5)(96,4.5)(97,29.5)(98,4)(99,4)(100,4)(101,5)(102,3.7)(103,3.7)(104,3.7)};
\addplot[openm={pentagon}{cora}, mark size=2.3pt] coordinates {(105,9.9)(106,6)(107,9.5)(108,4.7)(109,5.2)(110,4.7)(111,4.7)(112,4.7)(113,4.7)(114,5.2)(115,6.8)(116,5)(117,4.8)};
\end{axis}

\end{tikzpicture}
\end{document}
